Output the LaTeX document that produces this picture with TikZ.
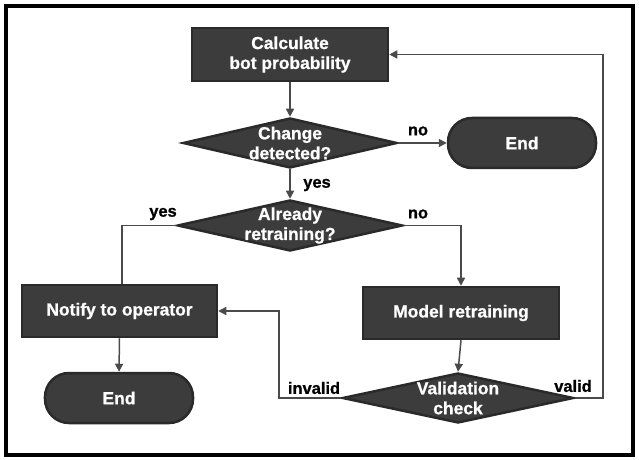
\documentclass[tikz,border=0pt]{standalone}
\usepackage{fontspec}
\setmainfont{Liberation Sans}[BoldFeatures={FakeBold=0.8}]
\usetikzlibrary{shapes.geometric,arrows.meta}
\definecolor{boxfill}{HTML}{3C3C3C}
\definecolor{boxline}{HTML}{2A2A2A}
\definecolor{conn}{HTML}{4A4A4A}
\tikzset{
  boxtext/.style={text=white,font=\fontsize{17.5}{20}\selectfont\bfseries,align=center},
  procbox/.style={draw=boxline,fill=boxfill,line width=2.5bp,boxtext,inner sep=0pt},
  termbox/.style={procbox,rounded corners=24bp},
  decbox/.style={diamond,draw=boxline,fill=boxfill,line width=2.5bp,inner sep=0pt,aspect=1},
  lbl/.style={text=black,font=\fontsize{16.5}{18}\selectfont\bfseries,inner sep=0pt},
  flow/.style={draw=conn,line width=1.5bp,-{Triangle[length=8bp,width=8bp]}},
  flownotip/.style={draw=conn,line width=1.5bp}
}
\begin{document}
\begin{tikzpicture}[x=1bp,y=-1bp]
\useasboundingbox (0,0) rectangle (639,460);
\draw[line width=4.5bp] (6,6) rectangle (633,455);

\node[procbox,minimum width=196bp,minimum height=53bp] (calc) at (290,54.5) {Calculate\\bot probability};
\node[decbox,minimum width=214bp,minimum height=50bp,label={[boxtext]center:Change\\detected?}] (d1) at (290,143) {};
\node[termbox,minimum width=148bp,minimum height=50bp] (end1) at (522,143) {End};
\node[decbox,minimum width=225bp,minimum height=51bp,label={[boxtext]center:Already\\retraining?}] (d2) at (290,225.5) {};
\node[procbox,minimum width=195bp,minimum height=52bp] (notify) at (119.5,311) {Notify to operator};
\node[termbox,minimum width=148bp,minimum height=50bp] (end2) at (119,398) {End};
\node[procbox,minimum width=196bp,minimum height=52bp] (model) at (461,313) {Model retraining};
\node[decbox,minimum width=231bp,minimum height=50bp,label={[boxtext]center:Validation\\check}] (val) at (458,398) {};

\coordinate (c1) at (122,225.5);
\coordinate (c2) at (279,398);
\coordinate (c3) at (603,398);

\draw[flow] (calc.south) -- (d1.north);
\draw[flow] (d1.east) -- (end1.west);
\draw[flow] (d1.south) -- (d2.north);
\draw[flownotip] (d2.west) -- (c1) -- (c1 |- notify.north);
\draw[flow] (d2.east) -| (model.north);
\draw[flow] (notify.south) -- (end2.north);
\draw[flow] (model.south) -- (val.north);
\draw[flow] (val.west) -- (c2) |- (notify.east);
\draw[flow] (val.east) -- (c3) |- (calc.east);

\node[lbl] (lno1) at (418,131) {no};
\node[lbl] (lyes1) at (317,185) {yes};
\node[lbl] (lyes2) at (163,214) {yes};
\node[lbl] (lno2) at (418,214) {no};
\node[lbl] (linv) at (314,388) {invalid};
\node[lbl] (lval) at (573,386) {valid};
\end{tikzpicture}
\end{document}
